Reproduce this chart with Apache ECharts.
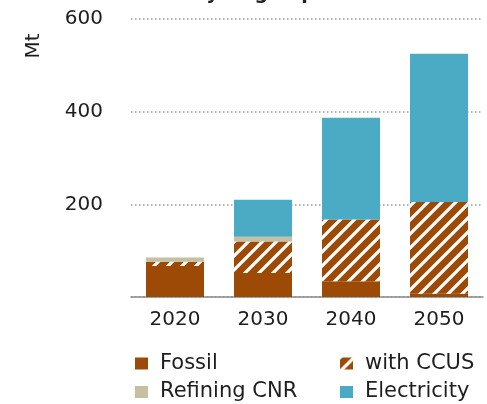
<!DOCTYPE html>
<html>
<head>
<meta charset="utf-8">
<script src="https://cdn.jsdelivr.net/npm/echarts@6/dist/echarts.min.js"></script>
<style>
  html, body { margin: 0; padding: 0; background: #fff; }
  #chart { width: 487px; height: 404px; }
</style>
</head>
<body>
<div id="chart"></div>
<script>
// Hydrogen production by route, Mt
const years = ['2020', '2030', '2040', '2050'];
const fossil = [67, 52, 34, 7];
const withCCUS = [9, 68, 133, 198];
const refiningCNR = [9, 10, 0, 0];
const electricity = [0, 80, 220, 320];
const yTicks = [0, 200, 400, 600];

const FONT = '"DejaVu Sans", "Noto Sans", sans-serif';
const BROWN = '#9C4A06';

// Brown fill with white "/" diagonal stripes
function stripePattern() {
  const s = 14;
  const c = document.createElement('canvas');
  c.width = s; c.height = s;
  const ctx = c.getContext('2d');
  ctx.fillStyle = BROWN;
  ctx.fillRect(0, 0, s, s);
  ctx.strokeStyle = '#ffffff';
  ctx.lineWidth = 3.2;
  ctx.beginPath();
  ctx.moveTo(0, s); ctx.lineTo(s, 0);
  ctx.moveTo(-s / 2, s / 2); ctx.lineTo(s / 2, -s / 2);
  ctx.moveTo(s / 2, s * 1.5); ctx.lineTo(s * 1.5, s / 2);
  ctx.stroke();
  return { image: c, repeat: 'repeat' };
}

const chart = echarts.init(document.getElementById('chart'), null, { renderer: 'canvas' });

const legendText = { fontFamily: FONT, fontSize: 21, color: '#1e1e1e', lineHeight: 22, padding: [0, 0, 0, 7] };

// One legend entry per slot of the 2x2 legend block
function legendAt(name, left, top) {
  return {
    data: [name], left: left, top: top, padding: 0,
    itemWidth: 13, itemHeight: 12, icon: 'rect', textStyle: legendText
  };
}

chart.setOption({
  animation: false,
  title: {
    text: 'Hydrogen production',
    left: 304, textAlign: 'center', top: -15, padding: 0,
    textStyle: { fontFamily: FONT, fontSize: 19, fontWeight: 'bold', color: '#222' }
  },
  grid: { left: 131, right: 4, top: 19, bottom: 107, containLabel: false },
  xAxis: {
    type: 'category',
    data: years,
    axisTick: { show: false },
    axisLine: { lineStyle: { color: '#8a8a8a', width: 1.5 } },
    axisLabel: { fontFamily: FONT, fontSize: 20, color: '#1e1e1e', margin: 13 }
  },
  yAxis: {
    type: 'value',
    min: yTicks[0], max: yTicks[yTicks.length - 1], interval: 200,
    axisLine: { show: false },
    axisTick: { show: false },
    axisLabel: { fontFamily: FONT, fontSize: 20, color: '#1e1e1e', margin: 28, showMinLabel: false },
    splitLine: {
      show: true,
      lineStyle: { color: '#9a9a9a', type: [1.5, 2.5], width: 1.5 }
    }
  },
  legend: [
    legendAt('Fossil', 135, 352.5),
    legendAt('Refining CNR', 135, 381),
    legendAt('with CCUS', 340, 352.5),
    legendAt('Electricity', 340, 381)
  ],
  graphic: [
    {
      type: 'text', x: 34, y: 46, rotation: Math.PI / 2,
      style: {
        text: 'Mt', fontFamily: FONT, fontSize: 20, fill: '#1e1e1e',
        align: 'center', verticalAlign: 'middle'
      }
    }
  ],
  series: [
    { name: 'Fossil', type: 'bar', stack: 'h2', data: fossil, barWidth: 58,
      itemStyle: { color: BROWN } },
    { name: 'with CCUS', type: 'bar', stack: 'h2', data: withCCUS, barWidth: 58,
      itemStyle: { color: stripePattern() } },
    { name: 'Refining CNR', type: 'bar', stack: 'h2', data: refiningCNR, barWidth: 58,
      itemStyle: { color: '#C5C0A0' } },
    { name: 'Electricity', type: 'bar', stack: 'h2', data: electricity, barWidth: 58,
      itemStyle: { color: '#4BABC5' } }
  ]
});
</script>
</body>
</html>
